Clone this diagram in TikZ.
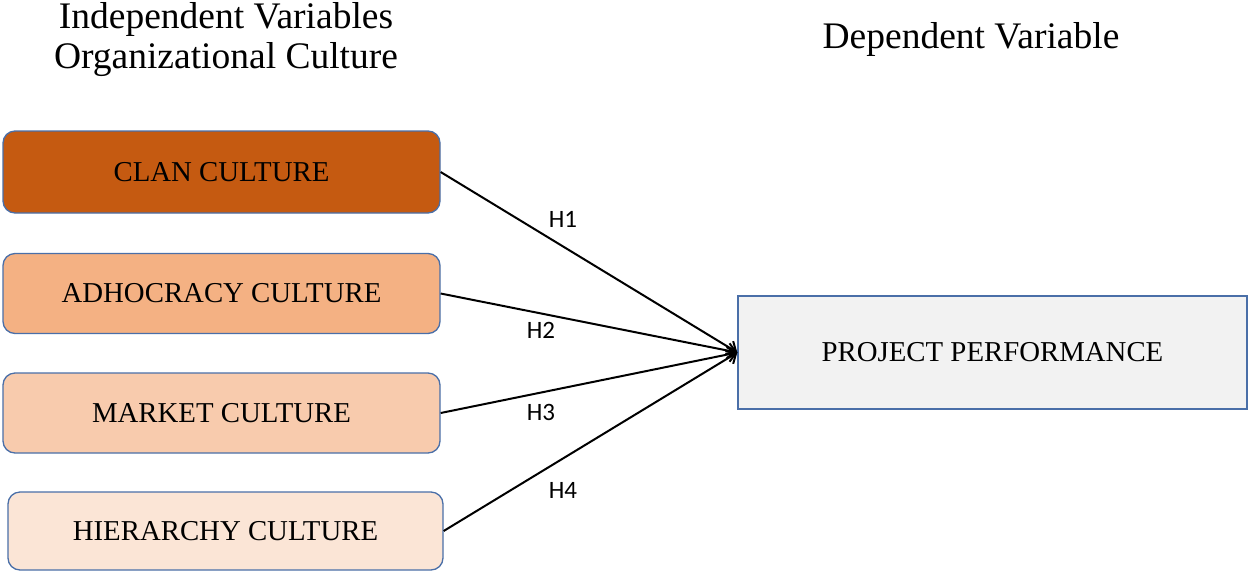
\documentclass[tikz,border=0pt]{standalone}
\usepackage{fontspec}
\setmainfont{Liberation Serif}
\newfontfamily\hfont{Carlito}
\usetikzlibrary{arrows.meta}
\definecolor{clan}{HTML}{C55A11}
\definecolor{adho}{HTML}{F4B183}
\definecolor{mark}{HTML}{F8CBAD}
\definecolor{hier}{HTML}{FBE5D6}
\definecolor{ppfill}{HTML}{F2F2F2}
\definecolor{edgeblue}{HTML}{4A6FA8}
\begin{document}
\begin{tikzpicture}[x=1pt,y=-1pt,
  culturebox/.style={draw=edgeblue, line width=1.3pt, rounded corners=12pt,
    inner sep=0pt, font=\fontsize{28.8}{33}\selectfont},
  perfbox/.style={draw=edgeblue, line width=1.3pt, fill=ppfill, inner sep=0pt,
    minimum width=509pt, minimum height=113pt, font=\fontsize{28.8}{33}\selectfont},
  heading/.style={font=\fontsize{37.5}{40}\selectfont, inner sep=0pt, align=center},
  hlabel/.style={font=\hfont\fontsize{25}{28}\selectfont, inner sep=0pt},
  link/.style={line width=2pt, -{Straight Barb[length=8pt,width=15pt,line width=2pt]}}]
\useasboundingbox (0,0) rectangle (1250,571);

\node[heading, anchor=base] (indep) at (226,28) {Independent Variables};
\node[heading, anchor=base] (orgc) at (226,68) {Organizational Culture};
\node[heading, anchor=base] (dep) at (971,48) {Dependent Variable};

\node[culturebox, fill=clan, minimum width=437pt, minimum height=82pt] (clanb) at (221.5,172) {CLAN CULTURE};
\node[culturebox, fill=adho, minimum width=437pt, minimum height=80pt] (adhob) at (221.5,293.5) {ADHOCRACY CULTURE};
\node[culturebox, fill=mark, minimum width=437pt, minimum height=80pt] (markb) at (221.5,413) {MARKET CULTURE};
\node[culturebox, fill=hier, minimum width=435pt, minimum height=78pt] (hierb) at (225.5,531) {HIERARCHY CULTURE};

\node[perfbox] (pp) at (992.5,352.5) {PROJECT PERFORMANCE};

\draw[link] (clanb.east) -- (pp.west);
\draw[link] (adhob.east) -- (pp.west);
\draw[link] (markb.east) -- (pp.west);
\draw[link] (hierb.east) -- (pp.west);

\node[hlabel] (h1) at (563,219) {H1};
\node[hlabel] (h2) at (541,330) {H2};
\node[hlabel] (h3) at (541,412) {H3};
\node[hlabel] (h4) at (563,490) {H4};
\end{tikzpicture}
\end{document}
